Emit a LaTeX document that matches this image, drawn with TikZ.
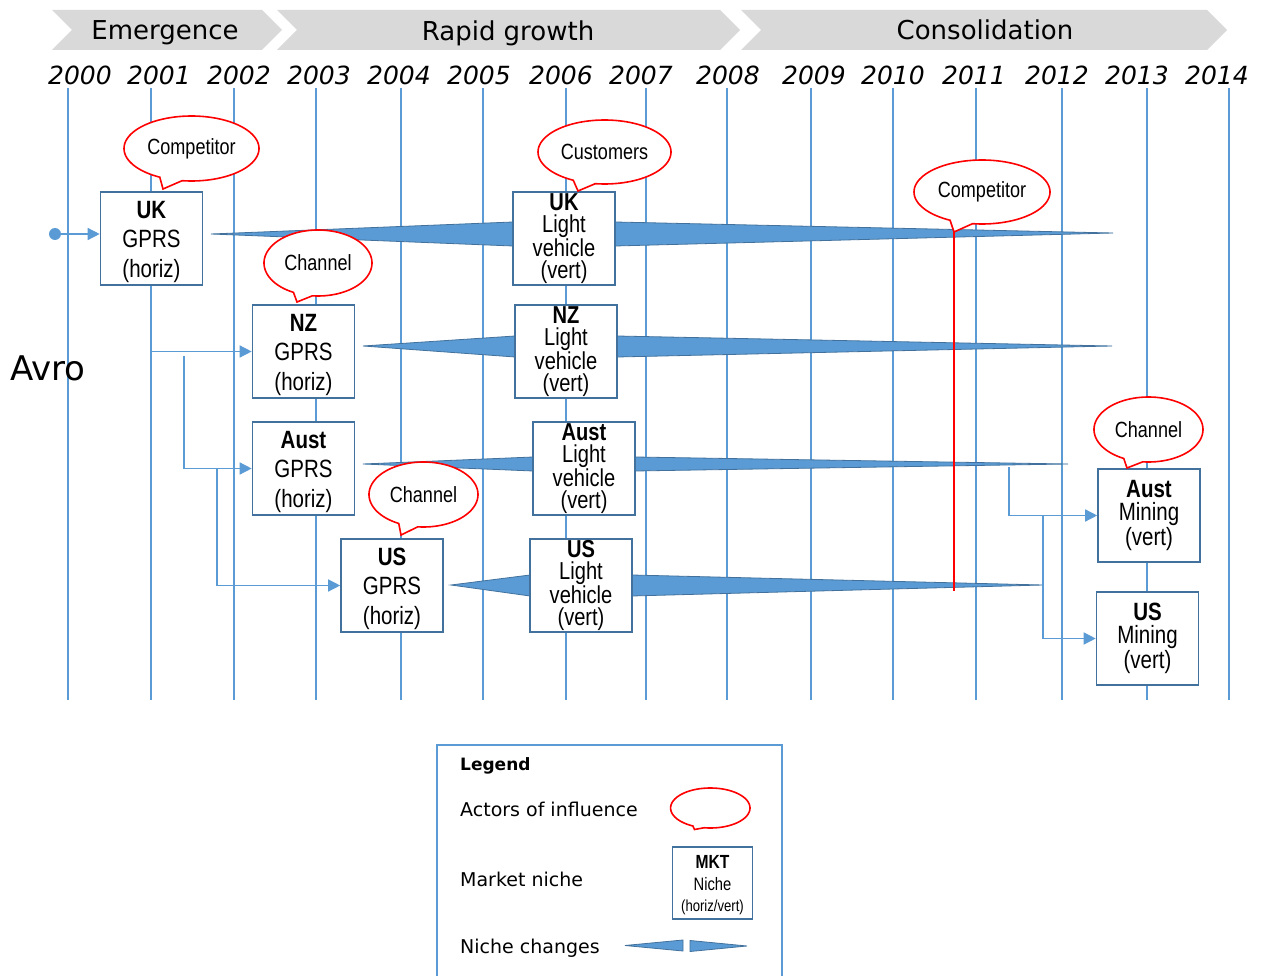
\documentclass[tikz,border=0pt]{standalone}
\usepackage{fontspec}
\setmainfont{DejaVu Sans}
\newfontfamily\nar[FakeStretch=0.82]{Liberation Sans}
\usetikzlibrary{arrows.meta}
\definecolor{lineblue}{HTML}{5B9BD5}
\definecolor{boxblue}{HTML}{41719C}
\definecolor{phasegray}{HTML}{D9D9D9}
\definecolor{callred}{HTML}{FF0000}
% cx, cy, rx, ry, start angle, end angle (+360), tip x, tip y
\newcommand\mycallout[8]{%
  \filldraw[callout] plot[domain=#5:#6,samples=100,variable=\t] ({#1+#3*cos(\t)},{#2+#4*sin(\t)}) -- (#7,#8) -- cycle;}
\newcommand\topstrut{\rule{0pt}{24pt}}
\begin{document}
\begin{tikzpicture}[x=1pt,y=-1pt,
 yearline/.style={draw=lineblue,line width=1.3pt},
 nichebox/.style={draw=boxblue,line width=1.6pt,fill=white,minimum width=102pt,minimum height=93pt,inner sep=0pt,align=center},
 gprsfont/.style={font=\nar\fontsize{25}{29.5}\selectfont},
 lvfont/.style={font=\nar\fontsize{24.5}{22.3}\selectfont},
 minefont/.style={font=\nar\fontsize{25}{23}\selectfont},
 wedge/.style={fill=lineblue,draw=boxblue,line width=0.8pt},
 conn/.style={draw=lineblue,line width=1.4pt,-{Triangle[length=12pt,width=12pt]}},
 callout/.style={draw=callred,line width=1.6pt,fill=white},
 calltext/.style={font=\nar\fontsize{22}{24}\selectfont},
 phase/.style={fill=phasegray},
 phasetext/.style={font=\fontsize{26}{30}\selectfont,anchor=base},
 yeartext/.style={font=\itshape\fontsize{25}{30}\selectfont,anchor=base},
 legtext/.style={font=\fontsize{19}{22}\selectfont,anchor=base west,inner sep=0pt}]
\useasboundingbox (0,0) rectangle (1262,976);
\fill[white] (0,0) rectangle (1262,976);

% phases
\fill[phase] (52,10) -- (262,10) -- (282,30) -- (262,50) -- (52,50) -- (72,30) -- cycle;
\fill[phase] (277,10) -- (720,10) -- (740,30) -- (720,50) -- (277,50) -- (297,30) -- cycle;
\fill[phase] (741,10) -- (1207,10) -- (1227,30) -- (1207,50) -- (741,50) -- (761,30) -- cycle;
\node[phasetext] (ph1) at (165,40) {Emergence};
\node[phasetext] (ph2) at (508,41) {Rapid growth};
\node[phasetext] (ph3) at (985,40) {Consolidation};

% years
\foreach \yx/\lx/\yr in {68/80/2000,151/159/2001,234/239/2002,316/319/2003,401/399/2004,483/479/2005,566/561/2006,646/641/2007,727/728/2008,811/814/2009,893/893/2010,976/974/2011,1062/1057/2012,1147/1137/2013,1229/1217/2014}{
  \node[yeartext] (y\yr) at (\lx,85) {\yr};
  \draw[yearline] (\yx,88) -- (\yx,700);
}

\node[font=\fontsize{34}{40}\selectfont,anchor=base west,inner sep=0pt] (avro) at (10,381) {Avro};

% wedges
\filldraw[wedge] (211,234) -- (513,222) -- (513,246) -- cycle;
\filldraw[wedge] (615,222) -- (1113,233) -- (615,246) -- cycle;
\filldraw[wedge] (363,346) -- (515,336) -- (515,357) -- cycle;
\filldraw[wedge] (617,336) -- (1112,346) -- (617,357) -- cycle;
\filldraw[wedge] (363,464) -- (533,457) -- (533,471) -- cycle;
\filldraw[wedge] (635,457) -- (1068,464) -- (635,471) -- cycle;
\filldraw[wedge] (451,585) -- (530,575) -- (530,596) -- cycle;
\filldraw[wedge] (632,575) -- (1043,585) -- (632,596) -- cycle;

% red line
\coordinate (redtop) at (954,232);
\coordinate (redbot) at (954,591);
\draw[callred,line width=1.6pt] (redtop) -- (redbot);

% boxes
\node[nichebox,gprsfont] (ukg) at (151.5,238.5) {\topstrut\textbf{UK}\\GPRS\\(horiz)};
\node[nichebox,gprsfont] (nzg) at (303.5,351.5) {\topstrut\textbf{NZ}\\GPRS\\(horiz)};
\node[nichebox,gprsfont] (aug) at (303.5,468.5) {\topstrut\textbf{Aust}\\GPRS\\(horiz)};
\node[nichebox,gprsfont] (usg) at (392,585.5) {\topstrut\textbf{US}\\GPRS\\(horiz)};
\node[nichebox,lvfont] (uklv) at (564,238.5) {\textbf{UK}\\Light\\vehicle\\(vert)};
\node[nichebox,lvfont] (nzlv) at (566,351.5) {\textbf{NZ}\\Light\\vehicle\\(vert)};
\node[nichebox,lvfont] (aulv) at (584,468.5) {\textbf{Aust}\\Light\\vehicle\\(vert)};
\node[nichebox,lvfont] (uslv) at (581,585.5) {\textbf{US}\\Light\\vehicle\\(vert)};
\node[nichebox,minefont] (aum) at (1149,515.5) {\textbf{Aust}\\Mining\\(vert)};
\node[nichebox,minefont] (usm) at (1147.5,638.5) {\textbf{US}\\Mining\\(vert)};

% connectors
\node[circle,fill=lineblue,inner sep=0pt,minimum size=12pt] (startdot) at (55,234) {};
\draw[conn] (startdot) -- (startdot -| ukg.west);
\draw[conn] (ukg.south) |- (nzg.west);
\coordinate (br1) at (184,356);
\draw[conn] (br1) |- (aug.west);
\coordinate (br2) at (217,468);
\draw[conn] (br2) |- (usg.west);
\coordinate (br3) at (1009,467);
\draw[conn] (br3) |- (aum.west);
\coordinate (br4) at (1043,515.5);
\draw[conn] (br4) |- (usm.west);

% callouts
\mycallout{191.5}{148.5}{67.5}{32.5}{118}{458}{163}{189}
\node[calltext] (c1) at (191.5,148.5) {Competitor};
\mycallout{604.5}{152}{66.5}{32}{118}{458}{578}{191}
\node[calltext] (c2) at (604.5,152) {Customers};
\mycallout{982}{192}{68}{32}{118}{458}{954}{232}
\node[calltext] (c3) at (982,192) {Competitor};
\mycallout{318}{263}{54}{33}{117}{456}{297}{302}
\node[calltext] (c4) at (318,263) {Channel};
\mycallout{423.5}{494.5}{54.5}{32.5}{117}{456}{401}{535}
\node[calltext] (c5) at (423.5,494.5) {Channel};
\mycallout{1148.5}{429.5}{54.5}{32.5}{117}{456}{1127}{468}
\node[calltext] (c6) at (1148.5,429.5) {Channel};

% legend
\draw[lineblue,line width=1.3pt] (437,990) -- (437,745) -- (782,745) -- (782,990);
\node[legtext,font=\bfseries\fontsize{17}{20}\selectfont] (lg) at (460,770) {Legend};
\node[legtext] (la) at (460,816) {Actors of influence};
\node[legtext] (lm) at (460,886) {Market niche};
\node[legtext] (ln) at (460,953) {Niche changes};
\mycallout{710.3}{808}{39.7}{20}{116}{459}{694.5}{829.5}
\node[draw=boxblue,line width=1.3pt,fill=white,minimum width=80pt,minimum height=72pt,inner sep=0pt] (mkt) at (712.5,883) {};
\node[font=\nar\bfseries\fontsize{19}{22}\selectfont,anchor=base] (mkt1) at (712.5,868.5) {MKT};
\node[font=\nar\fontsize{18}{22}\selectfont,anchor=base] (mkt2) at (712.5,890) {Niche};
\node[font=\nar\fontsize{16}{20}\selectfont,anchor=base] (mkt3) at (712.5,911) {(horiz/vert)};
\filldraw[wedge] (625,945.5) -- (683,940) -- (683,951) -- cycle;
\filldraw[wedge] (690,940.5) -- (747,946) -- (690,951.5) -- cycle;
\end{tikzpicture}
\end{document}
